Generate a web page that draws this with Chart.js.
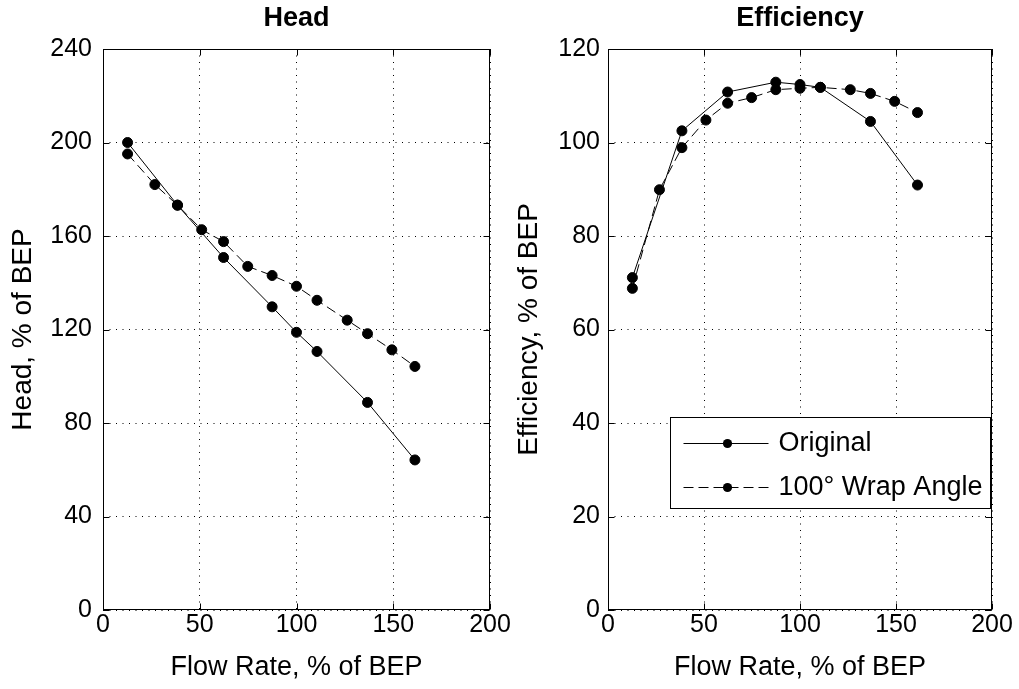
<!DOCTYPE html>
<html>
<head>
<meta charset="utf-8">
<script src="https://cdn.jsdelivr.net/npm/chart.js@4/dist/chart.umd.min.js"></script>
<style>
  html, body { margin: 0; padding: 0; background: #fff; }
  #wrap { position: relative; width: 1019px; height: 689px; overflow: hidden; background: #fff; }
  #wrap canvas { position: absolute; left: 0; top: 0; }
</style>
</head>
<body>
<div id="wrap">
  <canvas id="headChart" width="1019" height="689"></canvas>
  <canvas id="effChart" width="1019" height="689"></canvas>
</div>
<script>
// Flow rate samples (% of BEP)
const flowOrig = [12.7, 38.5, 62.3, 87.4, 100.0, 110.6, 136.7, 161.2];
const flowWrap = [12.7, 26.8, 38.5, 51.0, 62.3, 74.8, 87.4, 100.0, 110.6, 126.2, 136.7, 149.3, 161.2];

// Head (% of BEP)
const headOrig = [200.0, 173.2, 150.8, 129.7, 118.8, 110.6, 88.8, 64.2];
const headWrap = [195.1, 182.0, 173.2, 162.7, 157.6, 147.0, 143.1, 138.5, 132.5, 124.0, 118.2, 111.3, 104.2];

// Efficiency (% of BEP)
const effOrig = [71.1, 102.5, 110.8, 112.9, 112.4, 111.8, 104.5, 90.9];
const effWrap = [68.8, 89.9, 98.9, 104.8, 108.4, 109.6, 111.3, 111.6, 111.8, 111.3, 110.5, 108.8, 106.4];

// Tick values
const flowTicks = [0, 50, 100, 150, 200];
const headTicks = [0, 40, 80, 120, 160, 200, 240];
const effTicks = [0, 20, 40, 60, 80, 100, 120];

// Series names
const seriesNames = ['Original', '100\u00B0 Wrap Angle'];

const FONT = "'Liberation Sans', Arial, Helvetica, sans-serif";
Chart.defaults.font.family = FONT;
Chart.defaults.color = '#000';

const MARKER_R = 5;

function pts(xs, ys) { return xs.map((x, i) => ({ x: x, y: ys[i] })); }

function series(xs, ys, label, dash) {
  return {
    label: label,
    data: pts(xs, ys),
    borderColor: '#000',
    backgroundColor: '#000',
    borderWidth: 1,
    borderDash: dash,
    pointRadius: MARKER_R,
    pointBorderWidth: 1,
    pointBackgroundColor: '#000',
    pointBorderColor: '#000',
    pointHoverRadius: MARKER_R,
    tension: 0,
    fill: false
  };
}

// Box outline with inward tick marks on all four sides
const framePlugin = {
  id: 'frame',
  afterDatasetsDraw(chart) {
    const { ctx, chartArea: a, scales } = chart;
    const L = Math.round(a.left) + 0.5, R = Math.round(a.right) - 0.5;
    const T = Math.round(a.top) + 0.5, B = Math.round(a.bottom) - 0.5;
    const tl = 6;
    ctx.save();
    ctx.strokeStyle = '#000';
    ctx.lineWidth = 1;
    ctx.setLineDash([]);
    ctx.beginPath();
    scales.x.ticks.forEach(t => {
      const px = Math.round(scales.x.getPixelForValue(t.value)) + 0.5;
      ctx.moveTo(px, B); ctx.lineTo(px, B - tl);
      ctx.moveTo(px, T); ctx.lineTo(px, T + tl);
    });
    scales.y.ticks.forEach(t => {
      const py = Math.round(scales.y.getPixelForValue(t.value)) + 0.5;
      ctx.moveTo(L, py); ctx.lineTo(L + tl, py);
      ctx.moveTo(R, py); ctx.lineTo(R - tl, py);
    });
    ctx.stroke();
    ctx.strokeRect(L, T, R - L, B - T);
    ctx.restore();
  }
};

// Boxed legend: line sample with a marker in the middle, then the series name
const boxLegendPlugin = {
  id: 'boxLegend',
  afterDraw(chart, args, opts) {
    if (!opts.show) return;
    const { ctx, chartArea: a } = chart;
    const right = Math.round(a.right) - 1.5;
    const left = right - 320;
    const top = Math.round(a.top) + 368.5;
    const bottom = top + 91;
    ctx.save();
    ctx.fillStyle = '#fff';
    ctx.fillRect(left, top, right - left, bottom - top);
    ctx.strokeStyle = '#000';
    ctx.lineWidth = 1;
    ctx.setLineDash([]);
    ctx.strokeRect(left, top, right - left, bottom - top);
    chart.data.datasets.forEach((ds, i) => {
      const cy = top + 26 + i * 44;
      ctx.strokeStyle = '#000';
      ctx.lineWidth = 1;
      ctx.setLineDash(ds.borderDash || []);
      ctx.beginPath();
      ctx.moveTo(left + 13, cy);
      ctx.lineTo(left + 98, cy);
      ctx.stroke();
      ctx.setLineDash([]);
      ctx.beginPath();
      ctx.arc(left + 57, cy, 4.6, 0, Math.PI * 2);
      ctx.fillStyle = '#000';
      ctx.fill();
      ctx.font = '27px ' + FONT;
      ctx.textAlign = 'left';
      ctx.textBaseline = 'middle';
      ctx.fillText(ds.label, left + 108, cy);
    });
    ctx.restore();
  }
};

function makeChart(id, cfg) {
  const yTicks = cfg.yTicks;
  return new Chart(document.getElementById(id), {
    type: 'line',
    data: {
      datasets: [
        series(flowOrig, cfg.orig, seriesNames[0], []),
        series(flowWrap, cfg.wrap, seriesNames[1], [10, 5])
      ]
    },
    options: {
      responsive: false,
      animation: false,
      events: [],
      layout: { padding: cfg.padding },
      plugins: {
        legend: { display: false },
        tooltip: { enabled: false },
        title: {
          display: true,
          text: cfg.title,
          fullSize: false,
          color: '#000',
          font: { size: 27, weight: 'bold', family: FONT },
          padding: { top: 2.3, bottom: 14.3 }
        },
        boxLegend: { show: cfg.legend }
      },
      scales: {
        x: {
          type: 'linear',
          min: 0, max: 200,
          afterBuildTicks: s => { s.ticks = flowTicks.map(v => ({ value: v })); },
          afterFit: s => { s.height = 79; },
          ticks: { padding: 0, font: { size: 25 }, color: '#000', maxRotation: 0 },
          grid: { drawTicks: false, color: '#000', lineWidth: 1 },
          border: { display: false, dash: [1, 5.5] },
          title: {
            display: true,
            text: 'Flow Rate, % of BEP',
            color: '#000',
            font: { size: 27 },
            padding: { top: 0, bottom: 5.3 }
          }
        },
        y: {
          type: 'linear',
          min: yTicks[0], max: yTicks[yTicks.length - 1],
          afterBuildTicks: s => { s.ticks = yTicks.map(v => ({ value: v })); },
          afterFit: s => { s.width = cfg.yWidth; },
          ticks: { padding: cfg.yTickPad, font: { size: 25 }, color: '#000' },
          grid: { drawTicks: false, color: '#000', lineWidth: 1 },
          border: { display: false, dash: [1, 5.5] },
          title: {
            display: true,
            text: cfg.yTitle,
            color: '#000',
            font: { size: 28 },
            padding: { top: cfg.yTitlePad, bottom: 0 }
          }
        }
      }
    },
    plugins: [framePlugin, boxLegendPlugin]
  });
}

makeChart('headChart', {
  title: 'Head',
  yTitle: 'Head, % of BEP',
  orig: headOrig,
  wrap: headWrap,
  yTicks: headTicks,
  yWidth: 103,
  yTickPad: 11,
  yTitlePad: 6.2,
  padding: { left: 0, top: 0, right: 529, bottom: 0 },
  legend: false
});

makeChart('effChart', {
  title: 'Efficiency',
  yTitle: 'Efficiency, % of BEP',
  orig: effOrig,
  wrap: effWrap,
  yTicks: effTicks,
  yWidth: 104,
  yTickPad: 8,
  yTitlePad: 8.2,
  padding: { left: 504, top: 0, right: 27, bottom: 0 },
  legend: true
});
</script>
</body>
</html>
